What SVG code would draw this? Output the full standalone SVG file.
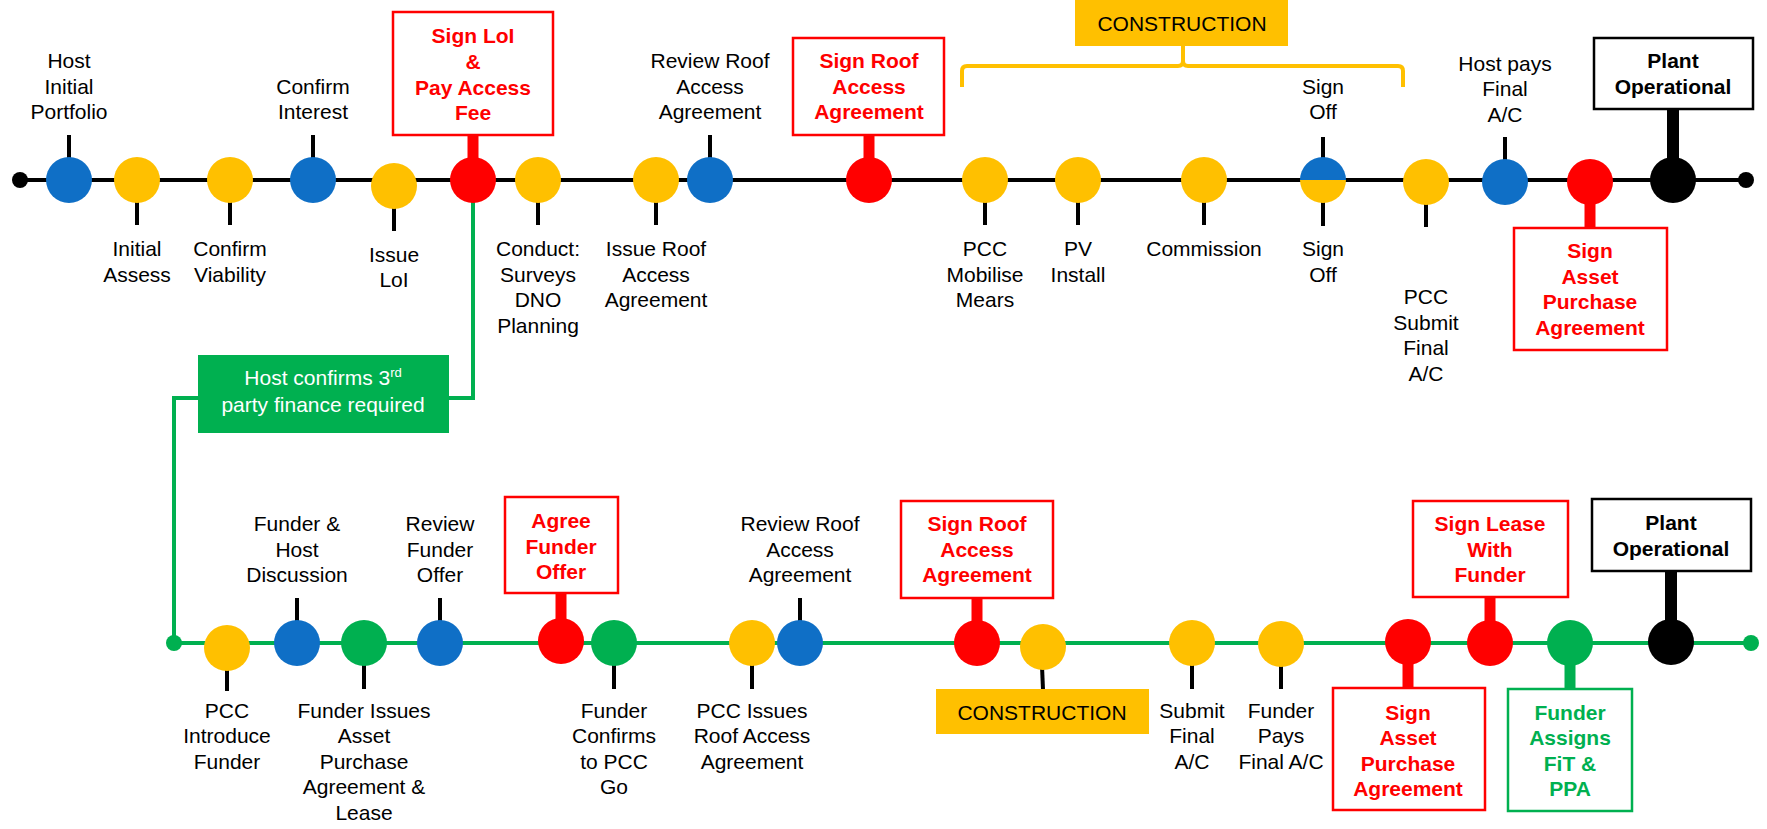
<svg xmlns="http://www.w3.org/2000/svg" width="1767" height="829" viewBox="0 0 1767 829">
<style>
text{font-family:"Liberation Sans",Arial,sans-serif;font-size:21px;text-anchor:middle}
.lb{fill:#000}
.rb{fill:#FF0000;font-weight:bold}
.kb{fill:#000;font-weight:bold}
.gb{fill:#00B050;font-weight:bold}
.wt{fill:#fff}
.blue{fill:#0F6FC6}
.yel{fill:#FFC000}
.red{fill:#FF0000}
.grn{fill:#00B050}
.blk{fill:#000}
.tick{stroke:#000;stroke-width:4}
.rstem{stroke:#FF0000;stroke-width:11}
.kstem{stroke:#000;stroke-width:12}
.gstem{stroke:#00B050;stroke-width:11}
.rbox{fill:#fff;stroke:#FF0000;stroke-width:2.5}
.kbox{fill:#fff;stroke:#000;stroke-width:2.5}
.gbox{fill:#fff;stroke:#00B050;stroke-width:2.5}
.ybox{fill:#FFC000}
.tl{stroke:#000;stroke-width:4;fill:none}
.gl{stroke:#00B050;stroke-width:4;fill:none}
.brace{stroke:#FFC000;stroke-width:4;fill:none}
</style>

<g id="connectors">
<line class="tl" x1="20" y1="180" x2="1746" y2="180"/>
<circle class="blk" cx="20" cy="180" r="8"/>
<circle class="blk" cx="1746" cy="180" r="8"/>
<path class="gl" d="M473,180 L473,398 L449,398"/>
<path class="gl" d="M198,398 L174,398 L174,643"/>
<line class="gl" x1="174" y1="643" x2="1751" y2="643"/>
<circle class="grn" cx="174" cy="643" r="8"/>
<circle class="grn" cx="1751" cy="643" r="8"/>
<path class="brace" d="M962,87 L962,71 Q962,66 967,66 L1178,66 Q1183,66 1183,61 L1183,46 M1183,61 Q1183,66 1188,66 L1398,66 Q1403,66 1403,71 L1403,87"/>
</g>

<g id="construction-top">
<rect class="ybox" x="1075" y="0" width="213" height="46"/>
<text class="lb" x="1182" y="31">CONSTRUCTION</text>
</g>

<g id="host-confirms-finance">
<rect class="grn" x="198" y="355" width="251" height="78"/>
<text class="wt" x="323" y="385">Host confirms 3<tspan font-size="13" dy="-8">rd</tspan></text>
<text class="wt" x="323" y="412">party finance required</text>
</g>

<!-- Top row -->
<g id="t1">
<line class="tick" x1="69" y1="135" x2="69" y2="160"/>
<circle class="blue" cx="69" cy="180" r="23"/>
<text class="lb"><tspan x="69" y="68">Host</tspan><tspan x="69" y="94">Initial</tspan><tspan x="69" y="119">Portfolio</tspan></text>
</g>
<g id="t2">
<line class="tick" x1="137" y1="200" x2="137" y2="225"/>
<circle class="yel" cx="137" cy="180" r="23"/>
<text class="lb"><tspan x="137" y="256">Initial</tspan><tspan x="137" y="282">Assess</tspan></text>
</g>
<g id="t3">
<line class="tick" x1="230" y1="200" x2="230" y2="225"/>
<circle class="yel" cx="230" cy="180" r="23"/>
<text class="lb"><tspan x="230" y="256">Confirm</tspan><tspan x="230" y="282">Viability</tspan></text>
</g>
<g id="t4">
<line class="tick" x1="313" y1="135" x2="313" y2="160"/>
<circle class="blue" cx="313" cy="180" r="23"/>
<text class="lb"><tspan x="313" y="94">Confirm</tspan><tspan x="313" y="119">Interest</tspan></text>
</g>
<g id="t5">
<line class="tick" x1="394" y1="205" x2="394" y2="231"/>
<circle class="yel" cx="394" cy="186" r="23"/>
<text class="lb"><tspan x="394" y="262">Issue</tspan><tspan x="394" y="287">LoI</tspan></text>
</g>
<g id="t6">
<line class="rstem" x1="473" y1="134" x2="473" y2="162"/>
<circle class="red" cx="473" cy="180" r="23"/>
<rect class="rbox" x="393" y="12" width="160" height="123"/>
<text class="rb"><tspan x="473" y="43">Sign LoI</tspan><tspan x="473" y="69">&amp;</tspan><tspan x="473" y="95">Pay Access</tspan><tspan x="473" y="120">Fee</tspan></text>
</g>
<g id="t7">
<line class="tick" x1="538" y1="200" x2="538" y2="225"/>
<circle class="yel" cx="538" cy="180" r="23"/>
<text class="lb"><tspan x="538" y="256">Conduct:</tspan><tspan x="538" y="282">Surveys</tspan><tspan x="538" y="307">DNO</tspan><tspan x="538" y="333">Planning</tspan></text>
</g>
<g id="t8">
<line class="tick" x1="656" y1="200" x2="656" y2="225"/>
<circle class="yel" cx="656" cy="180" r="23"/>
<text class="lb"><tspan x="656" y="256">Issue Roof</tspan><tspan x="656" y="282">Access</tspan><tspan x="656" y="307">Agreement</tspan></text>
</g>
<g id="t9">
<line class="tick" x1="710" y1="135" x2="710" y2="160"/>
<circle class="blue" cx="710" cy="180" r="23"/>
<text class="lb"><tspan x="710" y="68">Review Roof</tspan><tspan x="710" y="94">Access</tspan><tspan x="710" y="119">Agreement</tspan></text>
</g>
<g id="t10">
<line class="rstem" x1="869" y1="134" x2="869" y2="162"/>
<circle class="red" cx="869" cy="180" r="23"/>
<rect class="rbox" x="793" y="38" width="151" height="97"/>
<text class="rb"><tspan x="869" y="68">Sign Roof</tspan><tspan x="869" y="94">Access</tspan><tspan x="869" y="119">Agreement</tspan></text>
</g>
<g id="t11">
<line class="tick" x1="985" y1="200" x2="985" y2="225"/>
<circle class="yel" cx="985" cy="180" r="23"/>
<text class="lb"><tspan x="985" y="256">PCC</tspan><tspan x="985" y="282">Mobilise</tspan><tspan x="985" y="307">Mears</tspan></text>
</g>
<g id="t12">
<line class="tick" x1="1078" y1="200" x2="1078" y2="225"/>
<circle class="yel" cx="1078" cy="180" r="23"/>
<text class="lb"><tspan x="1078" y="256">PV</tspan><tspan x="1078" y="282">Install</tspan></text>
</g>
<g id="t13">
<line class="tick" x1="1204" y1="200" x2="1204" y2="225"/>
<circle class="yel" cx="1204" cy="180" r="23"/>
<text class="lb"><tspan x="1204" y="256">Commission</tspan></text>
</g>
<g id="t14">
<line class="tick" x1="1323" y1="137" x2="1323" y2="160"/>
<line class="tick" x1="1323" y1="200" x2="1323" y2="226"/>
<path class="blue" d="M1300,180 A23,23 0 0 1 1346,180 Z"/>
<path class="yel" d="M1300,180 A23,23 0 0 0 1346,180 Z"/>
<text class="lb"><tspan x="1323" y="94">Sign</tspan><tspan x="1323" y="119">Off</tspan></text>
<text class="lb"><tspan x="1323" y="256">Sign</tspan><tspan x="1323" y="282">Off</tspan></text>
</g>
<g id="t15">
<line class="tick" x1="1426" y1="202" x2="1426" y2="227"/>
<circle class="yel" cx="1426" cy="182" r="23"/>
<text class="lb"><tspan x="1426" y="304">PCC</tspan><tspan x="1426" y="330">Submit</tspan><tspan x="1426" y="355">Final</tspan><tspan x="1426" y="381">A/C</tspan></text>
</g>
<g id="t16">
<line class="tick" x1="1505" y1="137" x2="1505" y2="162"/>
<circle class="blue" cx="1505" cy="182" r="23"/>
<text class="lb"><tspan x="1505" y="71">Host pays</tspan><tspan x="1505" y="96">Final</tspan><tspan x="1505" y="122">A/C</tspan></text>
</g>
<g id="t17">
<line class="rstem" x1="1590" y1="200" x2="1590" y2="229"/>
<circle class="red" cx="1590" cy="182" r="23"/>
<rect class="rbox" x="1514" y="228" width="153" height="122"/>
<text class="rb"><tspan x="1590" y="258">Sign</tspan><tspan x="1590" y="284">Asset</tspan><tspan x="1590" y="309">Purchase</tspan><tspan x="1590" y="335">Agreement</tspan></text>
</g>
<g id="t18">
<line class="kstem" x1="1673" y1="108" x2="1673" y2="162"/>
<circle class="blk" cx="1673" cy="180" r="23"/>
<rect class="kbox" x="1594" y="38" width="159" height="71"/>
<text class="kb"><tspan x="1673" y="68">Plant</tspan><tspan x="1673" y="94">Operational</tspan></text>
</g>

<!-- Bottom row -->
<g id="b1">
<line class="tick" x1="227" y1="667" x2="227" y2="691"/>
<circle class="yel" cx="227" cy="648" r="23"/>
<text class="lb"><tspan x="227" y="718">PCC</tspan><tspan x="227" y="743">Introduce</tspan><tspan x="227" y="769">Funder</tspan></text>
</g>
<g id="b2">
<line class="tick" x1="297" y1="598" x2="297" y2="623"/>
<circle class="blue" cx="297" cy="643" r="23"/>
<text class="lb"><tspan x="297" y="531">Funder &amp;</tspan><tspan x="297" y="557">Host</tspan><tspan x="297" y="582">Discussion</tspan></text>
</g>
<g id="b3">
<line class="tick" x1="364" y1="663" x2="364" y2="689"/>
<circle class="grn" cx="364" cy="643" r="23"/>
<text class="lb"><tspan x="364" y="718">Funder Issues</tspan><tspan x="364" y="743">Asset</tspan><tspan x="364" y="769">Purchase</tspan><tspan x="364" y="794">Agreement &amp;</tspan><tspan x="364" y="820">Lease</tspan></text>
</g>
<g id="b4">
<line class="tick" x1="440" y1="598" x2="440" y2="623"/>
<circle class="blue" cx="440" cy="643" r="23"/>
<text class="lb"><tspan x="440" y="531">Review</tspan><tspan x="440" y="557">Funder</tspan><tspan x="440" y="582">Offer</tspan></text>
</g>
<g id="b5">
<line class="rstem" x1="561" y1="592" x2="561" y2="624"/>
<circle class="red" cx="561" cy="641" r="23"/>
<rect class="rbox" x="505" y="497" width="113" height="96"/>
<text class="rb"><tspan x="561" y="528">Agree</tspan><tspan x="561" y="554">Funder</tspan><tspan x="561" y="579">Offer</tspan></text>
</g>
<g id="b6">
<line class="tick" x1="614" y1="663" x2="614" y2="689"/>
<circle class="grn" cx="614" cy="643" r="23"/>
<text class="lb"><tspan x="614" y="718">Funder</tspan><tspan x="614" y="743">Confirms</tspan><tspan x="614" y="769">to PCC</tspan><tspan x="614" y="794">Go</tspan></text>
</g>
<g id="b7">
<line class="tick" x1="752" y1="663" x2="752" y2="689"/>
<circle class="yel" cx="752" cy="643" r="23"/>
<text class="lb"><tspan x="752" y="718">PCC Issues</tspan><tspan x="752" y="743">Roof Access</tspan><tspan x="752" y="769">Agreement</tspan></text>
</g>
<g id="b8">
<line class="tick" x1="800" y1="598" x2="800" y2="623"/>
<circle class="blue" cx="800" cy="643" r="23"/>
<text class="lb"><tspan x="800" y="531">Review Roof</tspan><tspan x="800" y="557">Access</tspan><tspan x="800" y="582">Agreement</tspan></text>
</g>
<g id="b9">
<line class="rstem" x1="977" y1="597" x2="977" y2="624"/>
<circle class="red" cx="977" cy="643" r="23"/>
<rect class="rbox" x="901" y="501" width="152" height="97"/>
<text class="rb"><tspan x="977" y="531">Sign Roof</tspan><tspan x="977" y="557">Access</tspan><tspan x="977" y="582">Agreement</tspan></text>
</g>
<g id="b10">
<line class="tick" x1="1042" y1="666" x2="1043" y2="690"/>
<circle class="yel" cx="1043" cy="647" r="23"/>
<rect class="ybox" x="936" y="689" width="213" height="45"/>
<text class="lb" x="1042" y="720">CONSTRUCTION</text>
</g>
<g id="b11">
<line class="tick" x1="1192" y1="663" x2="1192" y2="689"/>
<circle class="yel" cx="1192" cy="643" r="23"/>
<text class="lb"><tspan x="1192" y="718">Submit</tspan><tspan x="1192" y="743">Final</tspan><tspan x="1192" y="769">A/C</tspan></text>
</g>
<g id="b12">
<line class="tick" x1="1281" y1="663" x2="1281" y2="689"/>
<circle class="yel" cx="1281" cy="644" r="23"/>
<text class="lb"><tspan x="1281" y="718">Funder</tspan><tspan x="1281" y="743">Pays</tspan><tspan x="1281" y="769">Final A/C</tspan></text>
</g>
<g id="b13">
<line class="rstem" x1="1408" y1="660" x2="1408" y2="689"/>
<circle class="red" cx="1408" cy="642" r="23"/>
<rect class="rbox" x="1333" y="688" width="152" height="122"/>
<text class="rb"><tspan x="1408" y="720">Sign</tspan><tspan x="1408" y="745">Asset</tspan><tspan x="1408" y="771">Purchase</tspan><tspan x="1408" y="796">Agreement</tspan></text>
</g>
<g id="b14">
<line class="rstem" x1="1490" y1="596" x2="1490" y2="624"/>
<circle class="red" cx="1490" cy="643" r="23"/>
<rect class="rbox" x="1413" y="501" width="155" height="96"/>
<text class="rb"><tspan x="1490" y="531">Sign Lease</tspan><tspan x="1490" y="557">With</tspan><tspan x="1490" y="582">Funder</tspan></text>
</g>
<g id="b15">
<line class="gstem" x1="1570" y1="660" x2="1570" y2="690"/>
<circle class="grn" cx="1570" cy="643" r="23"/>
<rect class="gbox" x="1508" y="689" width="124" height="122"/>
<text class="gb"><tspan x="1570" y="720">Funder</tspan><tspan x="1570" y="745">Assigns</tspan><tspan x="1570" y="771">FiT &amp;</tspan><tspan x="1570" y="796">PPA</tspan></text>
</g>
<g id="b16">
<line class="kstem" x1="1671" y1="570" x2="1671" y2="624"/>
<circle class="blk" cx="1671" cy="642" r="23"/>
<rect class="kbox" x="1592" y="499" width="159" height="72"/>
<text class="kb"><tspan x="1671" y="530">Plant</tspan><tspan x="1671" y="556">Operational</tspan></text>
</g>
</svg>
